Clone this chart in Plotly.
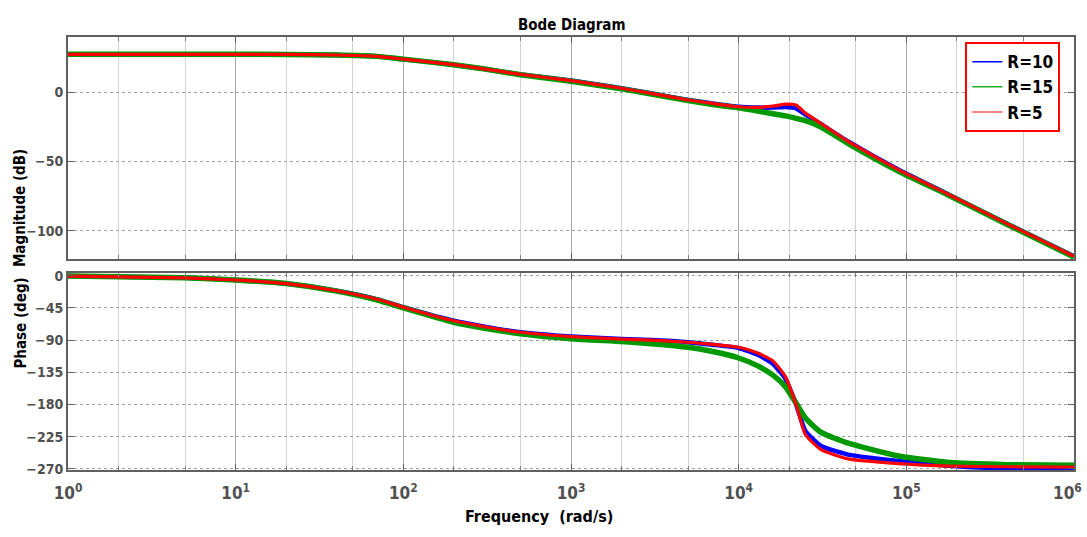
import plotly.graph_objects as go

freq = [1, 5, 10, 20, 40, 70, 100, 200, 300, 500, 1000, 2000, 3000, 5000, 7000,
        10000, 13000, 16000, 19000, 22000, 25000, 31000, 45000, 90000, 180000,
        400000, 1000000]

mag_r10 = [27.5, 27.5, 27.5, 27.4, 27, 26, 24, 20, 17, 13, 8.5, 3, -0.7, -5.5, -8,
           -10.4, -11, -11, -10.5, -11.5, -16, -23, -35.5, -56, -74, -95, -118.5]
mag_r15 = [27.5, 27.5, 27.5, 27.4, 27, 26, 24, 20, 17, 12.7, 8.0, 2.5, -1.2, -6, -8.8,
           -11.2, -13.5, -15.5, -17, -18.8, -20.5, -25, -37, -57, -74.5, -95.5, -119]
mag_r5 = [27.5, 27.5, 27.5, 27.4, 27, 26, 24, 20, 17, 13, 8.5, 3, -0.7, -5.5, -8,
          -10.4, -10.8, -10, -8.5, -9.2, -15, -22.5, -35.5, -56, -74, -95, -118.5]

ph_r10 = [-0.5, -3, -6, -11, -21, -33, -44, -63, -71, -79, -85, -88.5, -90, -93, -96.5,
          -101, -110.5, -123, -144, -180, -217, -238, -250, -259, -265.5, -269.5, -270.5]
ph_r15 = [-0.5, -3, -6, -11, -21.5, -34, -45, -65, -73, -81, -88, -92, -95, -100, -106,
          -115, -126, -139, -155, -178, -199, -219, -234, -252, -261, -264, -265]
ph_r5 = [-0.5, -3, -6, -11, -21, -33, -44, -63, -71, -79, -85, -88.5, -90, -93, -96,
         -100, -108, -119, -141, -180, -222, -243, -256, -262.5, -266, -267, -267.5]

series = [
    ("R=10", mag_r10, ph_r10, "#0000ff", 4.5),
    ("R=15", mag_r15, ph_r15, "#009900", 5.5),
    ("R=5", mag_r5, ph_r5, "#ff0000", 3.2),
]
legend_colors = ["#0000ff", "#22aa22", "#ff5a5a"]

mag_ticks = [0, -50, -100]
ph_ticks = [0, -45, -90, -135, -180, -225, -270]
x_ticks = [1, 10, 100, 1000, 10000, 100000, 1000000]
x_ticktext = ["10<sup>%d</sup>" % i for i in range(7)]

FONT = "DejaVu Sans Condensed, Liberation Sans Narrow, Arial Narrow, Liberation Sans, Arial"
XTICKFONT = dict(family=FONT, size=17, color="#505050", weight="bold")

fig = go.Figure()
for name, m, p, c, w in series:
    fig.add_trace(go.Scatter(x=freq, y=m, mode="lines", name=name, showlegend=False,
                             line=dict(color=c, width=w, shape="spline", smoothing=0.5),
                             xaxis="x", yaxis="y"))
for name, m, p, c, w in series:
    fig.add_trace(go.Scatter(x=freq, y=p, mode="lines", name=name, showlegend=False,
                             line=dict(color=c, width=w, shape="spline", smoothing=0.5),
                             xaxis="x2", yaxis="y2"))
for (name, m, p, c, w), lc in zip(series, legend_colors):
    fig.add_trace(go.Scatter(x=[None], y=[None], mode="lines", name=name,
                             line=dict(color=lc, width=1.5), xaxis="x", yaxis="y"))

xcommon = dict(type="log", range=[0, 6], showline=True, linecolor="#606060",
               linewidth=2, mirror="ticks", ticks="inside", ticklen=6,
               tickcolor="#606060", showgrid=True, gridcolor="#a8a8a8", gridwidth=1,
               tickvals=x_ticks, zeroline=False,
               minor=dict(ticks="inside", ticklen=4, tickcolor="#808080",
                          showgrid=True, gridcolor="#d4d4d4", gridwidth=1))
ycommon = dict(showline=True, linecolor="#606060", linewidth=2, mirror="ticks",
               ticks="inside", ticklen=6, tickcolor="#606060", showgrid=True,
               gridcolor="#a0a0a0", griddash="dot", gridwidth=1, zeroline=False,
               tickfont=dict(family=FONT, size=14, color="#505050", weight="bold"))

annotations = [
    dict(text="<b>Bode Diagram</b>", xref="paper", yref="paper", x=0.5, y=1,
         yshift=23, showarrow=False, font=dict(family=FONT, size=15, color="black")),
    dict(text="<b>Frequency  (rad/s)</b>", xref="paper", yref="paper", x=0.468,
         y=0, yshift=-58, showarrow=False,
         font=dict(family=FONT, size=16, color="black")),
    dict(text="<b>Magnitude (dB)</b>", xref="paper", yref="paper", x=-0.058,
         y=0.745, textangle=-90, showarrow=False,
         font=dict(family=FONT, size=15, color="black")),
    dict(text="<b>Phase (deg)</b>", xref="paper", yref="paper", x=-0.058,
         y=0.23, textangle=-90, showarrow=False,
         font=dict(family=FONT, size=15, color="black")),
]
# last decade label (plotly drops the label sitting on the right edge)
annotations.append(dict(text=x_ticktext[-1], xref="x2", yref="paper",
                        x=6, y=0, xanchor="right", xshift=10, yanchor="top",
                        yshift=-9, showarrow=False, font=XTICKFONT))

fig.update_layout(
    width=1087, height=537,
    margin=dict(l=68, r=11, t=37, b=67),
    plot_bgcolor="white", paper_bgcolor="white",
    xaxis=dict(xcommon, domain=[0, 1], anchor="y", showticklabels=False),
    yaxis=dict(ycommon, domain=[0.487, 1], range=[-120.5, 40], tickvals=mag_ticks,
               anchor="x"),
    xaxis2=dict(xcommon, domain=[0, 1], anchor="y2", ticktext=x_ticktext,
                tickfont=XTICKFONT, ticklabelstandoff=7),
    yaxis2=dict(ycommon, domain=[0, 0.455], range=[-271.5, 3.8], tickvals=ph_ticks,
                anchor="x2"),
    showlegend=True,
    legend=dict(x=0.892, y=0.988, xanchor="left", yanchor="top",
                bordercolor="#ff0000", borderwidth=2, bgcolor="white",
                font=dict(family=FONT, size=17, color="black", weight="bold"),
                itemwidth=30, tracegroupgap=0),
    font=dict(family=FONT),
    annotations=annotations,
)

fig.write_html("out.html")
